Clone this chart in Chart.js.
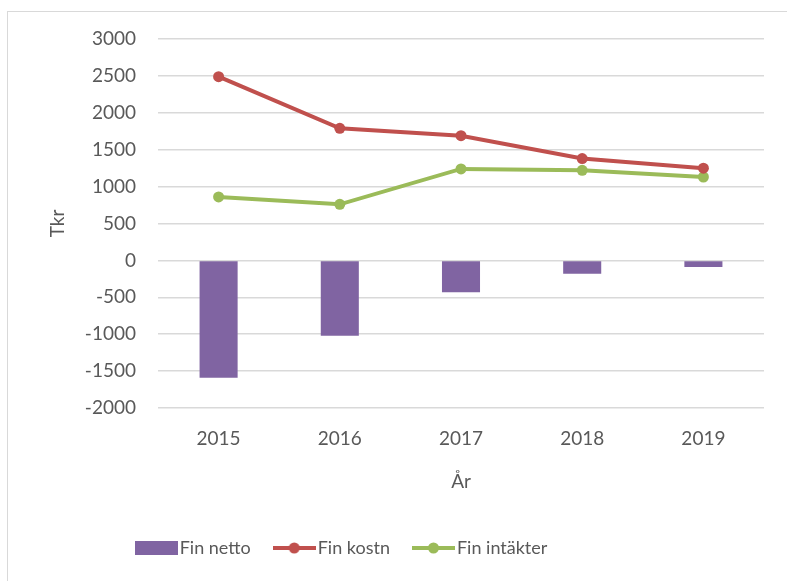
<!DOCTYPE html>
<html>
<head>
<meta charset="utf-8">
<script src="https://cdn.jsdelivr.net/npm/chart.js@4"></script>
<style>
  html, body { margin: 0; padding: 0; background: #ffffff; }
  #wrap { position: relative; width: 787px; height: 581px; overflow: hidden; }
  #frame { position: absolute; left: 7px; top: 11px; width: 800px; height: 600px;
           border-top: 1px solid #d9d9d9; border-left: 1px solid #d9d9d9; }
  #chart { position: absolute; left: 0; top: 0; }
</style>
</head>
<body>
<div id="wrap">
  <div id="frame"></div>
  <canvas id="chart" width="787" height="581"></canvas>
</div>
<script>
// ---- Data ----
const years = ['2015', '2016', '2017', '2018', '2019'];
const finNetto = [-1590, -1020, -430, -180, -90];
const finKostn = [2490, 1790, 1690, 1380, 1250];
const finIntakter = [860, 760, 1240, 1220, 1130];

const yMin = -2000;
const yMax = 3000;
const yStep = 500;

const PURPLE = '#8064a2';
const RED = '#c0504d';
const GREEN = '#9bbb59';
const TEXT = '#595959';
const FONT = 'Lato, "Open Sans", sans-serif';

// legend icons: bar swatch or line with marker
function legendIcon(color, kind) {
  const c = document.createElement('canvas');
  c.width = 43;
  c.height = 16;
  const g = c.getContext('2d');
  if (kind === 'bar') {
    g.fillStyle = color;
    g.fillRect(0, 1, 43, 14);
  } else {
    g.strokeStyle = color;
    g.lineWidth = 4;
    g.beginPath();
    g.moveTo(0, 8);
    g.lineTo(43, 8);
    g.stroke();
    g.fillStyle = color;
    g.beginPath();
    g.arc(21.5, 8, 5.5, 0, Math.PI * 2);
    g.fill();
  }
  return c;
}

// Excel puts the legend a bit left of centre
const legendShift = {
  id: 'legendShift',
  afterLayout(chart) {
    chart.legend.left -= 82;
  }
};

new Chart(document.getElementById('chart').getContext('2d'), {
  data: {
    labels: years,
    datasets: [
      {
        type: 'bar',
        label: 'Fin netto',
        data: finNetto,
        backgroundColor: PURPLE,
        borderWidth: 0,
        barPercentage: 1,
        categoryPercentage: 0.314,
        order: 3
      },
      {
        type: 'line',
        label: 'Fin kostn',
        data: finKostn,
        borderColor: RED,
        backgroundColor: RED,
        borderWidth: 4,
        pointRadius: 5.5,
        pointBorderWidth: 0,
        tension: 0,
        order: 1
      },
      {
        type: 'line',
        label: 'Fin intäkter',
        data: finIntakter,
        borderColor: GREEN,
        backgroundColor: GREEN,
        borderWidth: 4,
        pointRadius: 5.5,
        pointBorderWidth: 0,
        tension: 0,
        order: 2
      }
    ]
  },
  options: {
    responsive: false,
    animation: false,
    layout: {
      autoPadding: false,
      padding: { top: 39, right: 23, bottom: 14, left: 7 }
    },
    plugins: {
      tooltip: { enabled: false },
      legend: {
        position: 'bottom',
        labels: {
          usePointStyle: true,
          pointStyleWidth: 29,
          padding: 29,
          color: TEXT,
          font: { family: FONT, size: 18 },
          generateLabels(chart) {
            const kinds = ['bar', 'line', 'line'];
            return chart.data.datasets.map((ds, i) => ({
              text: ds.label,
              fillStyle: ds.backgroundColor,
              strokeStyle: ds.backgroundColor,
              lineWidth: 0,
              pointStyle: legendIcon(ds.backgroundColor, kinds[i]),
              fontColor: TEXT,
              hidden: false,
              datasetIndex: i
            }));
          }
        }
      }
    },
    scales: {
      x: {
        grid: { display: false, drawTicks: false },
        border: { display: false },
        ticks: { color: TEXT, font: { family: FONT, size: 19 }, padding: 19 },
        title: {
          display: true,
          text: 'År',
          color: TEXT,
          font: { family: FONT, size: 19 },
          padding: { top: 0, bottom: 17 }
        },
        afterFit(scale) { scale.height = 102; }
      },
      y: {
        min: yMin,
        max: yMax,
        grid: { color: '#d9d9d9', lineWidth: 1.5, drawTicks: false },
        border: { display: false },
        ticks: {
          stepSize: yStep,
          color: TEXT,
          font: { family: FONT, size: 19 },
          padding: 22,
          callback: (value) => String(value)
        },
        title: {
          display: true,
          text: 'Tkr',
          color: TEXT,
          font: { family: FONT, size: 19 },
          padding: { top: 39, bottom: 0 }
        },
        afterFit(scale) { scale.width = 151; }
      }
    }
  },
  plugins: [legendShift]
});
</script>
</body>
</html>
